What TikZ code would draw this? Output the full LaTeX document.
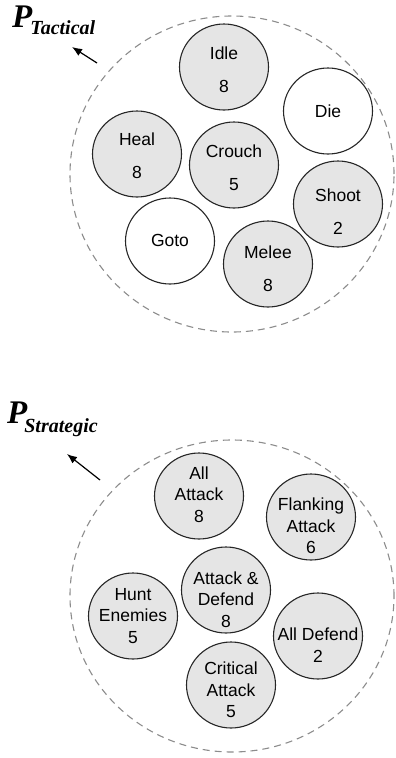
\documentclass[tikz,border=0pt]{standalone}
\usepackage{fontspec}
\setmainfont{Liberation Sans}
\newfontfamily\tnr{Liberation Serif}
\usetikzlibrary{shapes.geometric,arrows.meta}
\begin{document}
\begin{tikzpicture}[x=1pt,y=-1pt,
  state/.style={ellipse, draw=black!85, line width=1.1pt, minimum width=89pt, minimum height=86pt, inner sep=0pt},
  act/.style={state, fill=black!10},
  plain/.style={state, fill=white},
  txt/.style={align=center, inner sep=0pt, font=\fontsize{17.5}{21.5}\selectfont},
  group/.style={ellipse, draw=black!45, dash pattern=on 7pt off 5pt, line width=1.1pt, inner sep=0pt},
  ptr/.style={-{Latex[length=10pt,width=8pt]}, line width=1.2pt},
  plabel/.style={anchor=base west, font=\tnr\bfseries\itshape, inner sep=0pt}
]
\useasboundingbox (0,0) rectangle (396,758);
% tactical group
\node[group, minimum width=324pt, minimum height=316pt] (tac) at (232,174) {};
\node[act]   (idle)   at (224,67)  {};
\node[txt]   (idle-t) at (224,69.5) {Idle\\[11.5pt]8};
\node[plain] (die)    at (328,111) {};
\node[txt]   (die-t)  at (328,111) {Die};
\node[act]   (heal)   at (137,154) {};
\node[txt]   (heal-t) at (137,156) {Heal\\[11.5pt]8};
\node[act]   (crouch) at (234,165) {};
\node[txt]   (crouch-t) at (234,168) {Crouch\\[11.5pt]5};
\node[act]   (shoot)  at (338,204) {};
\node[txt]   (shoot-t) at (338,211.5) {Shoot\\[11.5pt]2};
\node[plain] (goto)   at (170,241) {};
\node[txt]   (goto-t) at (170,240) {Goto};
\node[act]   (melee)  at (268,264) {};
\node[txt]   (melee-t) at (268,268.5) {Melee\\[11.5pt]8};
\node[plabel] (ptac) at (12,27) {\fontsize{33}{33}\selectfont P\kern-2pt\raisebox{-7pt}{\fontsize{20}{20}\selectfont Tactical}};
\coordinate (t1) at (97,63);
\coordinate (h1) at (72,47);
\draw[ptr] (t1) -- (h1);
% strategic group
\node[group, minimum width=324pt, minimum height=312pt] (str) at (232,596) {};
\node[act] (allatt)   at (199,496) {};
\node[txt] (allatt-t) at (199,494.5) {All\\Attack\\8};
\node[act] (flank)    at (311,517) {};
\node[txt] (flank-t)  at (311,526) {Flanking\\Attack\\6};
\node[act] (attdef)   at (226,590) {};
\node[txt] (attdef-t) at (226,599.5) {Attack \&\\Defend\\8};
\node[act] (hunt)     at (133,616) {};
\node[txt] (hunt-t)   at (133,616) {Hunt\\Enemies\\5};
\node[act] (alldef)   at (318,636) {};
\node[txt] (alldef-t) at (318,645) {All Defend\\2};
\node[act] (crit)     at (231,685) {};
\node[txt] (crit-t)   at (231,690) {Critical\\Attack\\5};
\node[plabel] (pstr) at (7,423) {\fontsize{33}{33}\selectfont P\kern-3pt\raisebox{-9pt}{\fontsize{20}{20}\selectfont Strategic}};
\coordinate (t2) at (100,480);
\coordinate (h2) at (67,454);
\draw[ptr] (t2) -- (h2);
\end{tikzpicture}
\end{document}
